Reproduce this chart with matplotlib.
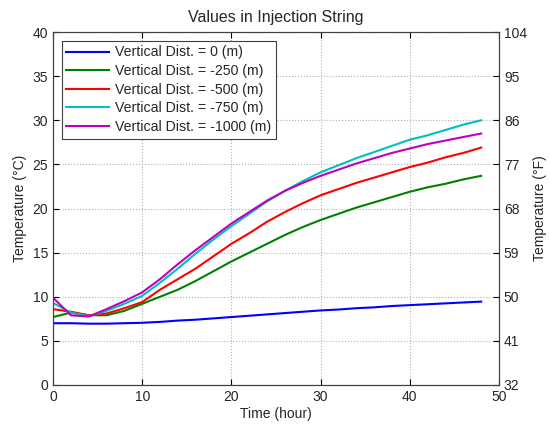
import numpy as np
import matplotlib
matplotlib.use('Agg')
import matplotlib.pyplot as plt

plt.rcParams['font.family'] = ['Liberation Sans', 'DejaVu Sans']

# time in hours (sampled every 2 h)
time_h = list(range(0, 50, 2))

dist_labels = ['Vertical Dist. = 0 (m)', 'Vertical Dist. = -250 (m)',
               'Vertical Dist. = -500 (m)', 'Vertical Dist. = -750 (m)',
               'Vertical Dist. = -1000 (m)']

temp_0 = [7.0, 7.0, 6.95, 6.95, 7.0, 7.05, 7.15, 7.3, 7.4, 7.55, 7.7, 7.85, 8.0,
          8.15, 8.3, 8.45, 8.55, 8.7, 8.8, 8.95, 9.05, 9.15, 9.25, 9.35, 9.45]
temp_250 = [7.7, 8.2, 7.9, 7.9, 8.4, 9.2, 10.0, 10.8, 11.8, 12.9, 14.0, 15.0, 16.0,
            17.0, 17.9, 18.7, 19.4, 20.1, 20.7, 21.3, 21.9, 22.4, 22.8, 23.3, 23.7]
temp_500 = [8.6, 8.3, 7.9, 8.1, 8.7, 9.4, 10.8, 12.0, 13.2, 14.6, 16.0, 17.2, 18.5,
            19.6, 20.6, 21.5, 22.2, 22.9, 23.5, 24.1, 24.7, 25.2, 25.8, 26.3, 26.9]
temp_750 = [9.3, 8.2, 7.8, 8.4, 9.2, 10.1, 11.6, 13.2, 14.9, 16.5, 18.0, 19.4, 20.8,
            22.0, 23.1, 24.1, 24.9, 25.7, 26.4, 27.1, 27.8, 28.3, 28.9, 29.5, 30.0]
temp_1000 = [9.9, 7.9, 7.75, 8.6, 9.5, 10.5, 12.0, 13.7, 15.3, 16.8, 18.3, 19.6, 20.9,
             22.0, 22.9, 23.7, 24.4, 25.1, 25.7, 26.3, 26.8, 27.3, 27.7, 28.1, 28.5]

celsius_ticks = [0, 5, 10, 15, 20, 25, 30, 35, 40]
fahrenheit_ticks = [32, 41, 50, 59, 68, 77, 86, 95, 104]

colors = [(0, 0, 1), (0, 0.5, 0), (1, 0, 0), (0, 0.75, 0.75), (0.75, 0, 0.75)]
series = [temp_0, temp_250, temp_500, temp_750, temp_1000]
txt = '#262626'

fig = plt.figure(figsize=(5.5, 4.24), dpi=100)
ax = fig.add_axes([0.0964, 0.092, 0.8109, 0.8325])

for vals, lab, c in zip(series, dist_labels, colors):
    ax.plot(time_h, vals, color=c, linewidth=1.5, label=lab)

ax.set_xlim(0, 50)
ax.set_ylim(0, 40)
ax.set_yticks(celsius_ticks)
ax.set_xticks([0, 10, 20, 30, 40, 50])
ax.grid(True, linestyle=':', color='#b0b0b0', linewidth=0.8)
ax.tick_params(direction='in', top=True, labelsize=10, length=4, labelcolor=txt)
ax.set_xlabel('Time (hour)', fontsize=10, labelpad=2, color=txt)
ax.set_ylabel('Temperature (°C)', fontsize=10, labelpad=4, color=txt)
ax.set_title('Values in Injection String', fontsize=11.5, pad=7, color=txt)
for s in ax.spines.values():
    s.set_color('#404040')

leg = ax.legend(loc='upper left', fontsize=10.2, fancybox=False, framealpha=1,
                edgecolor='#404040', borderaxespad=0.6, handlelength=3.0,
                labelspacing=0.32, borderpad=0.35, handletextpad=0.4)
leg.get_frame().set_linewidth(0.8)
for t in leg.get_texts():
    t.set_color(txt)

ax2 = ax.twinx()
ax2.set_ylim(32, 104)
ax2.set_yticks(fahrenheit_ticks)
ax2.tick_params(direction='in', labelsize=10, length=4, labelcolor=txt)
ax2.set_ylabel('Temperature (°F)', fontsize=10, labelpad=4, color=txt)
for s in ax2.spines.values():
    s.set_color('#404040')

fig.savefig('out.png', dpi=100)
